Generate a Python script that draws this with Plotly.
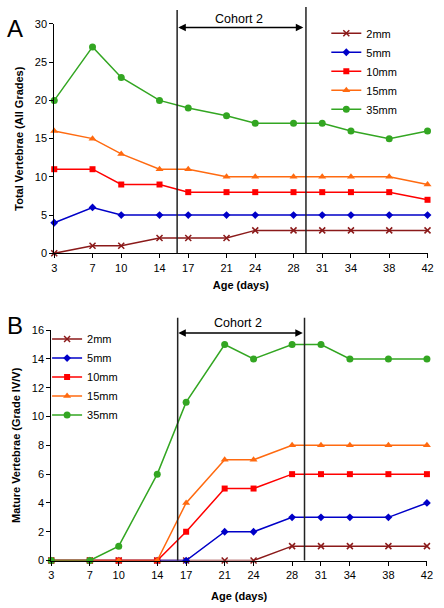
import plotly.graph_objects as go

days = [3, 7, 10, 14, 17, 21, 24, 28, 31, 34, 38, 42]
tick_labels = [str(d) for d in days]
series_names = ["2mm", "5mm", "10mm", "15mm", "35mm"]

total_2mm = [0, 1, 1, 2, 2, 2, 3, 3, 3, 3, 3, 3]
total_5mm = [4, 6, 5, 5, 5, 5, 5, 5, 5, 5, 5, 5]
total_10mm = [11, 11, 9, 9, 8, 8, 8, 8, 8, 8, 8, 7]
total_15mm = [16, 15, 13, 11, 11, 10, 10, 10, 10, 10, 10, 9]
total_35mm = [20, 27, 23, 20, 19, 18, 17, 17, 17, 16, 15, 16]

mature_2mm = [0, 0, 0, 0, 0, 0, 0, 1, 1, 1, 1, 1]
mature_5mm = [0, 0, 0, 0, 0, 2, 2, 3, 3, 3, 3, 4]
mature_10mm = [0, 0, 0, 0, 2, 5, 5, 6, 6, 6, 6, 6]
mature_15mm = [0, 0, 0, 0, 4, 7, 7, 8, 8, 8, 8, 8]
mature_35mm = [0, 0, 1, 6, 11, 15, 14, 15, 15, 14, 14, 14]

colors = ["#8B1A1A", "#0000C8", "#FF0000", "#FF6A10", "#33A622"]
symbols = ["x-thin-open", "diamond", "square", "triangle-up", "circle"]
sizes = [6, 6, 6, 7, 7]

W, H = 444, 608
FONT = "Arial, Liberation Sans, sans-serif"

fig = go.Figure()

totals = [total_2mm, total_5mm, total_10mm, total_15mm, total_35mm]
matures = [mature_2mm, mature_5mm, mature_10mm, mature_15mm, mature_35mm]

for i, name in enumerate(series_names):
    fig.add_trace(go.Scatter(
        x=days, y=totals[i], name=name, mode="lines+markers",
        line=dict(color=colors[i], width=1.5),
        marker=dict(symbol=symbols[i], size=sizes[i], color=colors[i],
                    line=dict(color=colors[i], width=1.5 if i == 0 else 0)),
        xaxis="x", yaxis="y", legend="legend", cliponaxis=False))
for i, name in enumerate(series_names):
    fig.add_trace(go.Scatter(
        x=days, y=matures[i], name=name, mode="lines+markers",
        line=dict(color=colors[i], width=1.5),
        marker=dict(symbol=symbols[i], size=sizes[i], color=colors[i],
                    line=dict(color=colors[i], width=1.5 if i == 0 else 0)),
        xaxis="x2", yaxis="y2", legend="legend2", cliponaxis=False))

def px_x(p):
    return p / W

def px_y(p):
    return 1 - p / H

axis_common = dict(
    showgrid=False, zeroline=False, showline=True, linecolor="black", linewidth=1,
    ticks="outside", ticklen=4, tickcolor="black",
    tickfont=dict(family=FONT, size=11, color="black"),
)

fig.update_layout(
    width=W, height=H,
    margin=dict(l=0, r=0, t=0, b=0),
    paper_bgcolor="white", plot_bgcolor="white",
    font=dict(family=FONT, color="black"),
    xaxis=dict(domain=[px_x(52.3), px_x(433.3)], range=[3, 42], anchor="y",
               tickvals=days, ticktext=tick_labels,
               title=dict(text="<b>Age (days)</b>", font=dict(size=11), standoff=8),
               **axis_common),
    yaxis=dict(domain=[px_y(252.3), px_y(18.3)], range=[0, 30], anchor="x",
               tickvals=[0, 5, 10, 15, 20, 25, 30],
               title=dict(text="<b>Total Vertebrae (All Grades)</b>", font=dict(size=11), standoff=8),
               **axis_common),
    xaxis2=dict(domain=[px_x(49.3), px_x(432.7)], range=[3, 42], anchor="y2",
                tickvals=days, ticktext=tick_labels,
                title=dict(text="<b>Age (days)</b>", font=dict(size=11), standoff=12),
                **axis_common),
    yaxis2=dict(domain=[px_y(565.7), px_y(330.7)], range=[0, 16], anchor="x2",
                tickvals=[0, 2, 4, 6, 8, 10, 12, 14, 16],
                title=dict(text="<b>Mature Vertebrae (Grade IV/V)</b>", font=dict(size=11), standoff=8),
                **axis_common),
    legend=dict(x=px_x(330), y=px_y(13), xanchor="left", yanchor="top",
                bgcolor="rgba(0,0,0,0)", font=dict(family=FONT, size=11),
                itemwidth=30, tracegroupgap=0),
    legend2=dict(x=px_x(45), y=px_y(325), xanchor="left", yanchor="top",
                 bgcolor="rgba(0,0,0,0)", font=dict(family=FONT, size=11),
                 itemwidth=30, tracegroupgap=0),
    showlegend=True,
)

shapes = []
# Panel A cohort boundaries
for xv, top in [(15.84, 4), (29.3, 1)]:
    shapes.append(dict(type="line", xref="x", yref="paper", x0=xv, x1=xv,
                       y0=px_y(252.3), y1=px_y(top), line=dict(color="#222222", width=1.5)))
# Panel B cohort boundaries
for xv, top in [(16.12, 318), (29.29, 318)]:
    shapes.append(dict(type="line", xref="x2", yref="paper", x0=xv, x1=xv,
                       y0=px_y(565.7), y1=px_y(top), line=dict(color="#222222", width=1.5)))
fig.update_layout(shapes=shapes)

annotations = [
    dict(text="A", x=px_x(2), y=px_y(23), xref="paper", yref="paper",
         xanchor="left", yanchor="middle", showarrow=False,
         font=dict(family=FONT, size=24, color="black")),
    dict(text="B", x=px_x(2), y=px_y(326), xref="paper", yref="paper",
         xanchor="left", yanchor="middle", showarrow=False,
         font=dict(family=FONT, size=24, color="black")),
    dict(text="Cohort 2", x=px_x(241), y=px_y(13), xref="paper", yref="paper",
         xanchor="center", yanchor="middle", showarrow=False,
         font=dict(family=FONT, size=12.5, color="black")),
    dict(text="Cohort 2", x=px_x(240), y=px_y(323), xref="paper", yref="paper",
         xanchor="center", yanchor="middle", showarrow=False,
         font=dict(family=FONT, size=12.5, color="black")),
    dict(text="", x=px_x(306.5), y=px_y(22), xref="paper", yref="paper",
         ax=-126.5, ay=0, axref="pixel", ayref="pixel", showarrow=True,
         arrowhead=2, startarrowhead=2, arrowside="end+start", arrowwidth=1.5,
         arrowsize=1, arrowcolor="black"),
    dict(text="", x=px_x(306), y=px_y(333.5), xref="paper", yref="paper",
         ax=-126, ay=0, axref="pixel", ayref="pixel", showarrow=True,
         arrowhead=2, startarrowhead=2, arrowside="end+start", arrowwidth=1.5,
         arrowsize=1, arrowcolor="black"),
]
fig.update_layout(annotations=annotations)

fig.write_html("out.html", config={"displayModeBar": False})

# remove default page margin so the figure sits at the window origin
with open("out.html", "r", encoding="utf-8") as f:
    html = f.read()
html = html.replace("<head>", "<head><style>html,body{margin:0;padding:0;overflow:hidden;}</style>", 1)
with open("out.html", "w", encoding="utf-8") as f:
    f.write(html)
